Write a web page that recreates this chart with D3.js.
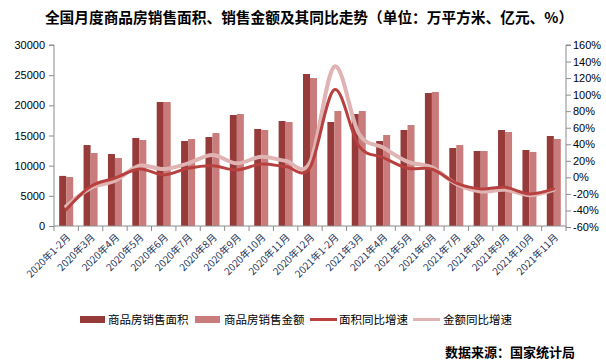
<!DOCTYPE html>
<html><head><meta charset="utf-8">
<script src="https://cdn.jsdelivr.net/npm/d3@7"></script>
<style>body{margin:0;background:#fff;} svg{display:block;}</style>
</head><body>
<script>
const categories = ["2020年1-2月","2020年3月","2020年4月","2020年5月","2020年6月","2020年7月","2020年8月","2020年9月","2020年10月","2020年11月","2020年12月","2021年1-2月","2021年3月","2021年4月","2021年5月","2021年6月","2021年7月","2021年8月","2021年9月","2021年10月","2021年11月"];
const areaValues = [8300,13420,11930,14590,20550,14090,14750,18400,16080,17400,25190,17240,18560,14090,15910,22040,12930,12430,15910,12600,14920];
const amountValues = [8120,12100,11270,14250,20550,14420,15410,18560,15910,17240,24530,19060,19060,15080,16740,22210,13420,12430,15580,12270,14420];
const areaGrowth = [-39,-11,-1,10,3,11,14,9,16,13,12,106,38,24,11,10,-7,-14,-12,-20,-14];
const amountGrowth = [-35,-13,-4,14,10,17,27,17,25,20,18,134,53,36,19,12,-8,-17,-15,-21.5,-15];
const leftTicks = [0,5000,10000,15000,20000,25000,30000];
const rightTicks = [-60,-40,-20,0,20,40,60,80,100,120,140,160];
const title = "全国月度商品房销售面积、销售金额及其同比走势（单位：万平方米、亿元、%）";
const seriesNames = ["商品房销售面积","商品房销售金额","面积同比增速","金额同比增速"];
const source = "数据来源：国家统计局";

const W = 606, H = 362;
const x0 = 54, x1 = 566, yTop = 45, yBot = 226;
const colors = {area:"#963a3a", amount:"#c97c7b", areaLine:"#b8413f", amountLine:"#e0b4b3", axis:"#8c8c8c"};
const font = "'Liberation Sans', Arial, sans-serif";
const cjk = "'Noto Sans CJK SC', 'Noto Sans', sans-serif";

const svg = d3.select("body").append("svg").attr("width",W).attr("height",H);

const x = d3.scaleBand().domain(categories).range([x0,x1]);
const yL = d3.scaleLinear().domain([0,30000]).range([yBot,yTop]);
const yR = d3.scaleLinear().domain([-60,160]).range([227,45]);

svg.append("text").attr("x",309).attr("y",23).attr("text-anchor","middle")
  .attr("font-family",cjk).attr("font-weight","bold").attr("font-size",14.7).attr("fill","#000").text(title);

// bars
const bw = 7;
const g = svg.append("g");
g.selectAll("rect.a").data(categories).join("rect")
  .attr("x",(d)=>x(d)+x.bandwidth()/2-bw).attr("width",bw)
  .attr("y",(d,i)=>yL(areaValues[i])).attr("height",(d,i)=>yBot-yL(areaValues[i]))
  .attr("fill",colors.area);
g.selectAll("rect.b").data(categories).join("rect")
  .attr("x",(d)=>x(d)+x.bandwidth()/2).attr("width",bw)
  .attr("y",(d,i)=>yL(amountValues[i])).attr("height",(d,i)=>yBot-yL(amountValues[i]))
  .attr("fill",colors.amount);

// lines
const line = d3.line().x((d,i)=>x(categories[i])+x.bandwidth()/2).y(d=>yR(d)).curve(d3.curveCardinal.tension(0));
svg.append("path").attr("d",line(amountGrowth)).attr("fill","none").attr("stroke",colors.amountLine).attr("stroke-width",4).attr("stroke-linecap","round");
svg.append("path").attr("d",line(areaGrowth)).attr("fill","none").attr("stroke",colors.areaLine).attr("stroke-width",3).attr("stroke-linecap","round");

// left axis
const la = svg.append("g").attr("transform",`translate(${x0},0)`)
  .call(d3.axisLeft(yL).tickValues(leftTicks).tickSize(5).tickPadding(4).tickFormat(d3.format("d")));
la.select(".domain").attr("stroke",colors.axis).attr("d",`M-5,${yTop}H0V${yBot}`);
la.selectAll(".tick line").attr("stroke",colors.axis);
la.selectAll("text").attr("font-family",font).attr("font-size",11).attr("fill","#000");

// right axis
const ra = svg.append("g").attr("transform",`translate(${x1},0)`)
  .call(d3.axisRight(yR).tickValues(rightTicks).tickSize(5).tickPadding(2).tickFormat(d=>d+"%"));
ra.select(".domain").attr("stroke",colors.axis).attr("d",`M5,45H0V227`);
ra.selectAll(".tick line").attr("stroke",colors.axis);
ra.selectAll("text").attr("font-family",font).attr("font-size",11).attr("fill","#000");

// x axis
const xa = svg.append("g");
xa.append("line").attr("x1",x0).attr("x2",x1).attr("y1",yBot).attr("y2",yBot).attr("stroke",colors.axis);
const boundaries = categories.map(c=>x(c)).concat([x1]);
xa.selectAll("line.t").data(boundaries).join("line").attr("x1",d=>d).attr("x2",d=>d).attr("y1",yBot).attr("y2",yBot+5).attr("stroke",colors.axis);
xa.selectAll("text").data(categories).join("text")
  .attr("transform",d=>`translate(${x(d)+x.bandwidth()/2+5},${yBot+12}) rotate(-45)`)
  .attr("text-anchor","end").attr("font-family",cjk).attr("font-size",10).attr("fill","#22335a").text(d=>d);

// legend
const lg = svg.append("g");
const items = [
  {type:"rect",color:colors.area,x:80,tx:108},
  {type:"rect",color:colors.amount,x:195,tx:224},
  {type:"line",color:colors.areaLine,x:310,tx:339},
  {type:"line",color:colors.amountLine,x:413,tx:443}
];
items.forEach((it,i)=>{
  if(it.type==="rect") lg.append("rect").attr("x",it.x).attr("y",316).attr("width",25).attr("height",7).attr("fill",it.color);
  else lg.append("line").attr("x1",it.x).attr("x2",it.x+27).attr("y1",319.5).attr("y2",319.5).attr("stroke",it.color).attr("stroke-width",3);
  lg.append("text").attr("x",it.tx).attr("y",324).attr("font-family",cjk).attr("font-size",11.5).attr("fill","#000").text(seriesNames[i]);
});

svg.append("text").attr("x",575).attr("y",357).attr("text-anchor","end")
  .attr("font-family",cjk).attr("font-weight","bold").attr("font-size",13).attr("fill","#000").text(source);
</script>
</body></html>
